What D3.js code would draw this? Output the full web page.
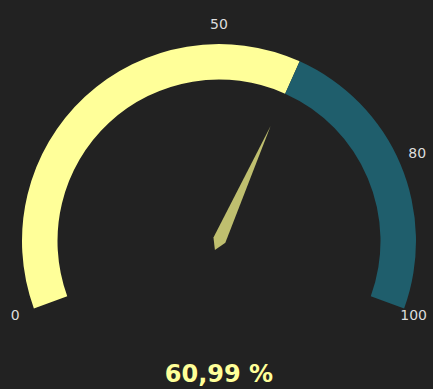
<!DOCTYPE html>
<html>
<head>
<meta charset="utf-8">
<script src="https://cdn.jsdelivr.net/npm/d3@7"></script>
<style>
  html, body { margin: 0; padding: 0; background: #222222; }
  svg { display: block; }
</style>
</head>
<body>
<svg id="chart" width="433" height="389"></svg>
<script>
// ---- data ----
const gaugeMin = 0;
const gaugeMax = 100;
const gaugeValue = 60.99;
const tickValues = [0, 50, 80, 100];
const tickLabels = ["0", "50", "80", "100"];
const valueText = "60,99 %";
const bandColors = ["#ffff99", "#1f5e6c"];

// ---- layout ----
const W = 433, H = 389;
const cx = 219, cy = 241;
const outerR = 197, innerR = 161.5;
const labelR = 217;

const svg = d3.select("#chart");
svg.append("rect").attr("width", W).attr("height", H).attr("fill", "#222222");

const deg = Math.PI / 180;
const angle = d3.scaleLinear().domain([gaugeMin, gaugeMax]).range([-110 * deg, 110 * deg]);

const g = svg.append("g").attr("transform", `translate(${cx},${cy})`);

const arc = d3.arc().innerRadius(innerR).outerRadius(outerR);

const bands = [
  { from: gaugeMin, to: gaugeValue, color: bandColors[0] },
  { from: gaugeValue, to: gaugeMax, color: bandColors[1] }
];

g.selectAll("path.band")
  .data(bands)
  .join("path")
  .attr("class", "band")
  .attr("fill", d => d.color)
  .attr("d", d => arc({ startAngle: angle(d.from), endAngle: angle(d.to) }));

// tick labels
const labelFont = 14;
g.selectAll("text.tick")
  .data(tickValues)
  .join("text")
  .attr("class", "tick")
  .attr("font-family", "DejaVu Sans, sans-serif")
  .attr("font-size", labelFont)
  .attr("fill", "#dddddd")
  .attr("text-anchor", "middle")
  .attr("dominant-baseline", "central")
  .text((d, i) => tickLabels[i])
  .each(function (d) {
    const a = angle(d);
    let x = labelR * Math.sin(a);
    const y = -labelR * Math.cos(a);
    const w = this.getComputedTextLength();
    // keep the label inside the canvas
    const maxX = W - 6 - cx - w / 2;
    const minX = 6 - cx + w / 2;
    x = Math.max(minX, Math.min(maxX, x));
    d3.select(this).attr("x", x).attr("y", y);
  });

// needle (kite shape, in local coords: u along needle, v across)
const needleShape = [[126, 0], [1, -6.5], [-10, 0], [1, 6.5]];
const a = angle(gaugeValue);
const dir = [Math.sin(a), -Math.cos(a)];
const perp = [Math.cos(a), Math.sin(a)];
const pts = needleShape.map(([u, v]) => [u * dir[0] + v * perp[0], u * dir[1] + v * perp[1]]);
g.append("path")
  .attr("d", d3.line()(pts) + "Z")
  .attr("fill", "#bfbf6f");

// value text
svg.append("text")
  .attr("x", cx)
  .attr("y", 381.5)
  .attr("text-anchor", "middle")
  .attr("font-family", "DejaVu Sans, sans-serif")
  .attr("font-weight", "bold")
  .attr("font-size", 24)
  .attr("fill", "#ffff99")
  .text(valueText);
</script>
</body>
</html>
